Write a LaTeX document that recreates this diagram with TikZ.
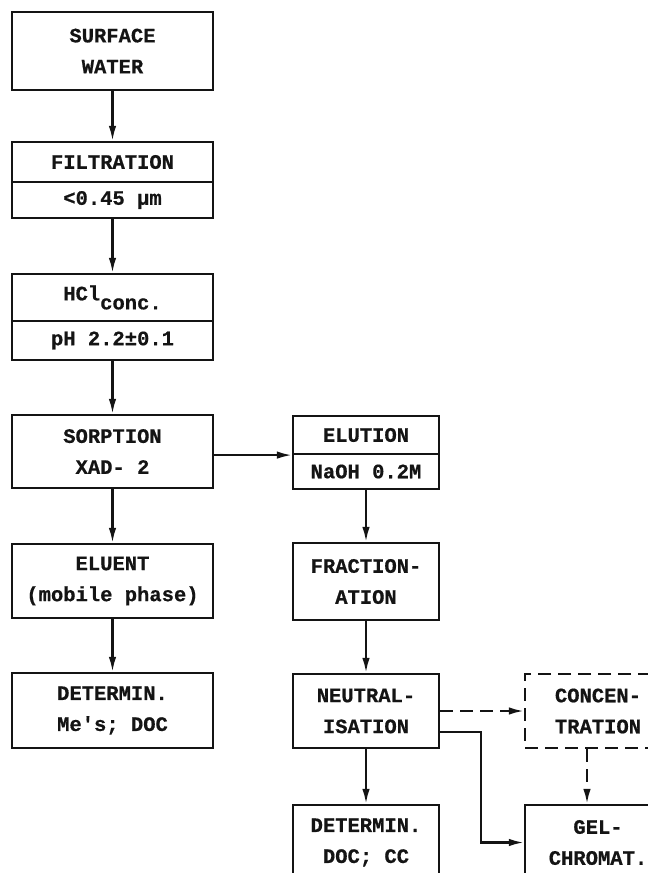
\documentclass[tikz,border=0pt]{standalone}
\usepackage{fontspec}
\setmonofont[BoldFeatures={FakeBold=0.6}]{Liberation Mono}
\usetikzlibrary{arrows.meta, positioning}
\definecolor{inkline}{HTML}{141414}

\begin{document}
\begin{tikzpicture}[
    x=1pt, y=-1pt,
    line width=2.2pt,
    font=\ttfamily\bfseries\fontsize{20.5}{31}\selectfont,
    lbox/.style={draw=inkline, text=inkline, minimum width=201pt, inner sep=0pt, align=center},
    rbox/.style={draw=inkline, text=inkline, minimum width=146pt, inner sep=0pt, align=center},
    dbox/.style={rbox, dash pattern=on 13pt off 7pt},
    flow/.style={draw=inkline, -{Latex[length=15pt,width=7.5pt]}},
    dflow/.style={flow, dash pattern=on 13pt off 7pt}
]

    % Frame (the picture is cut at the right and bottom edge)
    \useasboundingbox (0,0) rectangle (648,873);
    \clip (0,0) rectangle (648,873);

    % Left column
    \node[lbox, minimum height=78pt] (surf) at (112.5,51) {SURFACE\\WATER};
    \node[lbox, minimum height=40pt] (filtA) at (112.5,162) {FILTRATION};
    \node[lbox, minimum height=36pt] (filtB) at (112.5,200) {<0.45 µm};
    \node[lbox, minimum height=47pt] (hclA) at (112.5,297.5) {HCl\raisebox{-9pt}{conc.}};
    \node[lbox, minimum height=39pt] (hclB) at (112.5,340.5) {pH 2.2±0.1};
    \node[lbox, minimum height=73pt] (sorp) at (112.5,451.5) {SORPTION\\XAD- 2};
    \node[lbox, minimum height=74pt] (eluent) at (112.5,581) {ELUENT\\(mobile phase)};
    \node[lbox, minimum height=75pt] (detA) at (112.5,710.5) {DETERMIN.\\Me's; DOC};

    % Middle column
    \node[rbox, minimum height=38pt] (elutA) at (366,435) {ELUTION};
    \node[rbox, minimum height=35pt] (elutB) at (366,471.5) {NaOH 0.2M};
    \node[rbox, minimum height=77pt] (frac) at (366,581.5) {FRACTION-\\ATION};
    \node[rbox, minimum height=74pt] (neut) at (366,711) {NEUTRAL-\\ISATION};
    \node[rbox, minimum height=75pt] (detB) at (366,842.5) {DETERMIN.\\DOC; CC};

    % Right column
    \node[dbox, minimum height=74pt] (conc) at (598,711) {CONCEN-\\TRATION};
    \node[rbox, minimum height=75pt] (gel) at (598,842.5) {GEL-\\CHROMAT.};

    \coordinate (nbend) at (481,732);
    \coordinate (cdrop) at (587,0);

    % Flow arrows - left column
    \draw[flow] (surf) -- (filtA);
    \draw[flow] (filtB) -- (hclA);
    \draw[flow] (hclB) -- (sorp);
    \draw[flow] (sorp) -- (eluent);
    \draw[flow] (eluent) -- (detA);

    % Flow arrows - middle and right
    \draw[flow] (sorp.east |- elutA.south) -- (elutA.south west);
    \draw[flow] (elutB) -- (frac);
    \draw[flow] (frac) -- (neut);
    \draw[flow] (neut) -- (detB);
    \draw[dflow] (neut.east) -- (conc.west);
    \draw[flow] (neut.east |- nbend) -- (nbend) |- (gel.west);
    \draw[dflow] (cdrop |- conc.south) -- (cdrop |- gel.north);

\end{tikzpicture}
\end{document}
